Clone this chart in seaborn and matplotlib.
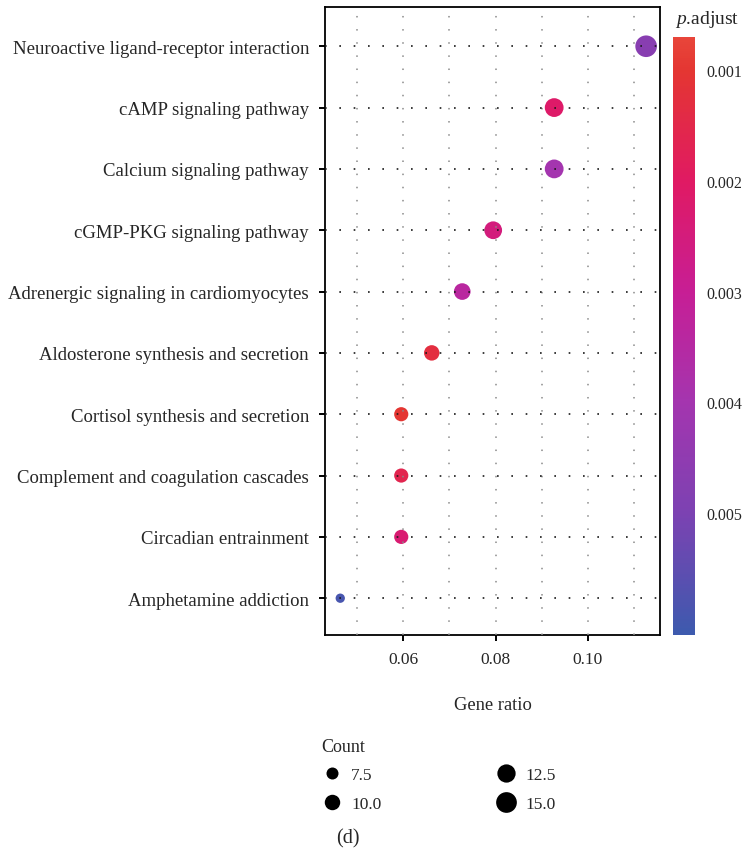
import matplotlib
matplotlib.use("Agg")
import matplotlib.pyplot as plt
import matplotlib.colors as mcolors
from matplotlib.lines import Line2D
from matplotlib.ticker import FixedLocator
import numpy as np
import pandas as pd
import seaborn as sns

# KEGG enrichment results
terms = [
    "Neuroactive ligand-receptor interaction",
    "cAMP signaling pathway",
    "Calcium signaling pathway",
    "cGMP-PKG signaling pathway",
    "Adrenergic signaling in cardiomyocytes",
    "Aldosterone synthesis and secretion",
    "Cortisol synthesis and secretion",
    "Complement and coagulation cascades",
    "Circadian entrainment",
    "Amphetamine addiction",
]
gene_ratio = [0.1126, 0.0927, 0.0927, 0.0795, 0.0728, 0.0662, 0.0596, 0.0596, 0.0596, 0.0464]
counts = [16, 13, 13, 12, 11, 10, 9, 9, 9, 6]
p_adjust = [0.0047, 0.0021, 0.0040, 0.0025, 0.0034, 0.0013, 0.0010, 0.0016, 0.0023, 0.0059]

x_ticks = [0.06, 0.08, 0.10]
x_minor = [0.05, 0.07, 0.09, 0.11]
cbar_ticks = [0.001, 0.002, 0.003, 0.004, 0.005]
legend_counts = [7.5, 10.0, 12.5, 15.0]

df = pd.DataFrame({"term": terms, "ratio": gene_ratio,
                   "count": counts, "padj": p_adjust})

sns.set_style("ticks")
plt.rcParams["font.family"] = ["Liberation Serif", "DejaVu Serif"]
plt.rcParams["mathtext.fontset"] = "custom"
plt.rcParams["mathtext.it"] = "Liberation Serif:italic"
plt.rcParams["mathtext.rm"] = "Liberation Serif"

FS_Y = 13.5
FS_X = 12.5
FS_LAB = 13.3
FS_CB = 11.5
FS_LEG = 12.5

# red -> magenta -> purple -> blue ramp for p.adjust
p_lo, p_hi = 0.0007, 0.0061
anchors = [(0.0007, "#E8453A"), (0.001, "#E43632"), (0.002, "#E01A63"),
           (0.003, "#C71E95"), (0.004, "#A435AF"), (0.005, "#7C42B2"),
           (0.0061, "#3D5AAE")]
cmap = mcolors.LinearSegmentedColormap.from_list(
    "padj", [((p - p_lo) / (p_hi - p_lo), c) for p, c in anchors])
norm = mcolors.Normalize(p_lo, p_hi)

size_range = (45, 242)
size_norm = (6, 16)


def marker_area(c):
    t = (c - size_norm[0]) / (size_norm[1] - size_norm[0])
    return size_range[0] + t * (size_range[1] - size_range[0])


fig = plt.figure(figsize=(7.46, 8.53), dpi=100)
W, H = 746, 853
ax = fig.add_axes([325 / W, 1 - 636 / H, 335 / W, 628 / H])

sns.scatterplot(data=df, x="ratio", y="term", hue="padj", size="count",
                palette=cmap, hue_norm=norm, sizes=size_range,
                size_norm=size_norm, linewidth=0, alpha=1, legend=False,
                ax=ax)

ax.set_ylim(len(terms) - 1 + 0.6, -0.64)
ax.set_xlim(0.0431, 0.1156)
ax.xaxis.set_major_locator(FixedLocator(x_ticks))
ax.xaxis.set_minor_locator(FixedLocator(x_minor))
ax.set_xticklabels([f"{v:.2f}" for v in x_ticks])

ax.set_axisbelow(False)
ax.grid(False)
ax.grid(True, which="both", axis="x", color="#8a8a8a",
        linestyle=(0, (1, 7.6)), linewidth=1.1)
ax.grid(True, which="major", axis="y", color="#1a1a1a",
        linestyle=(0, (1, 7.6)), linewidth=1.2)

for s in ax.spines.values():
    s.set_visible(True)
    s.set_color("black")
    s.set_linewidth(1.3)

ax.tick_params(axis="both", which="major", length=4.5, width=1.4,
               color="black", pad=7, direction="out")
ax.tick_params(axis="y", labelsize=FS_Y)
ax.tick_params(axis="x", labelsize=FS_X)
ax.tick_params(axis="x", which="minor", length=0)
ax.set_ylabel("")
ax.set_xlabel("Gene ratio", fontsize=FS_LAB, labelpad=21)

# colour bar
cax = fig.add_axes([673 / W, 1 - 636 / H, 22 / W, 598 / H])
sm = plt.cm.ScalarMappable(norm=norm, cmap=cmap)
cb = fig.colorbar(sm, cax=cax, ticks=cbar_ticks)
cb.outline.set_visible(False)
cax.invert_yaxis()
cax.set_yticklabels([f"{v:.3f}" for v in cbar_ticks])
cax.tick_params(axis="y", which="major", direction="in", length=3,
                width=1, color="white", labelsize=FS_CB, pad=8,
                left=True, right=True)
cax.tick_params(axis="y", which="minor", length=0)
fig.text(675 / W, 1 - 19 / H, r"$\mathit{p}$.adjust", fontsize=14,
         ha="left", va="center")

# size legend
handles = [Line2D([], [], linestyle="none", marker="o", color="black",
                  markersize=np.sqrt(marker_area(c)), markeredgewidth=0)
           for c in legend_counts]
leg = fig.legend(handles, [f"{c:.1f}" for c in legend_counts], title="Count",
                 loc="upper left", bbox_to_anchor=(313 / W, 1 - 730 / H),
                 ncol=2, frameon=False, fontsize=FS_LEG, title_fontsize=13,
                 handlelength=1.2, handletextpad=0.5, columnspacing=6.6,
                 labelspacing=0.72, alignment="left", borderpad=0)

fig.text(348 / W, 1 - 839 / H, "(d)", fontsize=14.5, ha="center",
         va="center")

fig.savefig("out.png", dpi=100)
